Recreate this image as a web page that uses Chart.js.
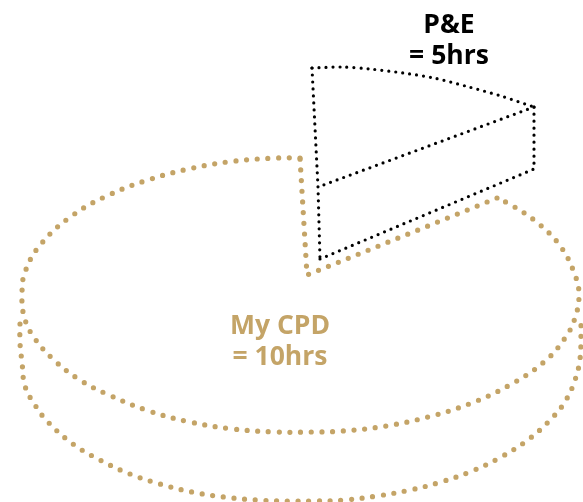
<!DOCTYPE html>
<html>
<head>
<meta charset="utf-8">
<style>
  html, body { margin: 0; padding: 0; background: #fff; }
  canvas { display: block; }
</style>
<script src="https://cdn.jsdelivr.net/npm/chart.js@4"></script>
</head>
<body>
<canvas id="pieChart" width="583" height="502"></canvas>
<script>
  // Outline points
  const cpdTopRim = [[300,158],[278,158],[235,161],[193,168],[151,179],[111,194],[73,215],[41,244],[25,272],[22,295],[24,316],[33,336],[54,360],[80,380],[109,395],[149,411],[190,422],[233,429],[276,432],[311,432],[343,431],[386,426],[428,417],[469,404],[508,386],[544,362],[565,338],[575,318],[579,295],[575,275],[561,247],[539,224],[513,206],[497,198]];
  const cpdCutEdges = [[497,198],[307,275],[300,158]];
  const cpdBottomRim = [[20,324],[20,343],[22,362],[25,386],[35,405],[48,422],[73,444],[100,460],[130,474],[160,484],[192,492],[224,497],[256,500],[288,501],[312,501],[345,500],[377,496],[410,490],[441,482],[472,471],[501,457],[529,439],[553,417],[566,400],[575,380],[580,359],[581,335],[581,323]];
  const peTopArc = [[312,68],[342,67],[370,69],[403,73],[434,78],[469,87],[501,96],[534,107]];
  const peInnerEdge = [[534,107],[318,187]];
  const peLeftEdge = [[312,68],[318,187],[320,259]];
  const peBottomEdge = [[320,259],[534,169],[534,107]];

  const cpdLabel = ['My CPD', '= 10hrs'];
  const peLabel = ['P&E', '= 5hrs'];
  const gold = '#c4a467';

  function toPoints(list) {
    return list.map(p => ({ x: p[0], y: p[1] }));
  }

  function outline(list, color, width, gap, tension) {
    return {
      data: toPoints(list),
      showLine: true,
      borderColor: color,
      borderWidth: width,
      borderDash: [0, gap],
      borderCapStyle: 'round',
      tension: tension,
      pointRadius: 0,
      clip: false
    };
  }

  // Text labels, placed through the scales
  const labelPlugin = {
    id: 'labelPlugin',
    afterDatasetsDraw(chart) {
      const ctx = chart.ctx;
      const put = (lines, x, y, color) => {
        ctx.save();
        ctx.font = 'bold 26.5px "Open Sans"';
        ctx.fillStyle = color;
        ctx.textAlign = 'center';
        ctx.textBaseline = 'middle';
        lines.forEach((t, i) => {
          ctx.fillText(t, chart.scales.x.getPixelForValue(x), chart.scales.y.getPixelForValue(y + i * 31));
        });
        ctx.restore();
      };
      put(cpdLabel, 280, 326, gold);
      put(peLabel, 449, 25, '#000');
    }
  };

  new Chart(document.getElementById('pieChart'), {
    type: 'scatter',
    data: {
      datasets: [
        outline(cpdTopRim, gold, 5.2, 10.7, 0.4),
        outline(cpdCutEdges, gold, 5.2, 10.7, 0),
        outline(cpdBottomRim, gold, 5.2, 10.7, 0.4),
        outline(peTopArc, '#000', 3.2, 7, 0.3),
        outline(peInnerEdge, '#000', 3.2, 7, 0),
        outline(peLeftEdge, '#000', 3.2, 7, 0),
        outline(peBottomEdge, '#000', 3.2, 7, 0)
      ]
    },
    options: {
      responsive: false,
      animation: false,
      layout: { padding: 0 },
      plugins: { legend: { display: false }, tooltip: { enabled: false } },
      scales: {
        x: { type: 'linear', min: 0, max: 583, display: false },
        y: { type: 'linear', min: 0, max: 502, reverse: true, display: false }
      }
    },
    plugins: [labelPlugin]
  });
</script>
</body>
</html>
